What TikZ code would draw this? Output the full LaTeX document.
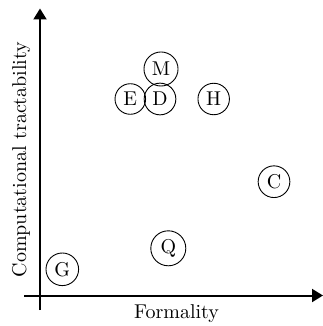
\documentclass[tikz,border=0pt]{standalone}
\usetikzlibrary{arrows.meta}
\begin{document}
\begin{tikzpicture}[x=0.5pt,y=-0.5pt,
  pt/.style={circle,draw,line width=0.45pt,inner sep=2pt},
  axis/.style={line width=1pt,-{Triangle[width=6.5pt,length=5.5pt]}}]
\useasboundingbox (0,0) rectangle (322,326);
\coordinate (xs) at (24,295.5);
\coordinate (xe) at (323,295.5);
\coordinate (ys) at (40,310);
\coordinate (ye) at (40,8.5);
\draw[axis] (xs) -- (xe);
\draw[axis] (ys) -- (ye);
\node[anchor=base] (xl) at (176.5,318) {Formality};
\node[anchor=base,rotate=90] (yl) at (26,159.5) {Computational tractability};
\node[pt] (M) at (161,69) {M};
\node[pt] (E) at (130.3,99) {E};
\node[pt] (D) at (160,99) {D};
\node[pt] (H) at (213.7,99) {H};
\node[pt] (C) at (274,181.7) {C};
\node[pt] (Q) at (168.3,248.3) {Q};
\node[pt] (G) at (62.3,269.3) {G};
\end{tikzpicture}
\end{document}
